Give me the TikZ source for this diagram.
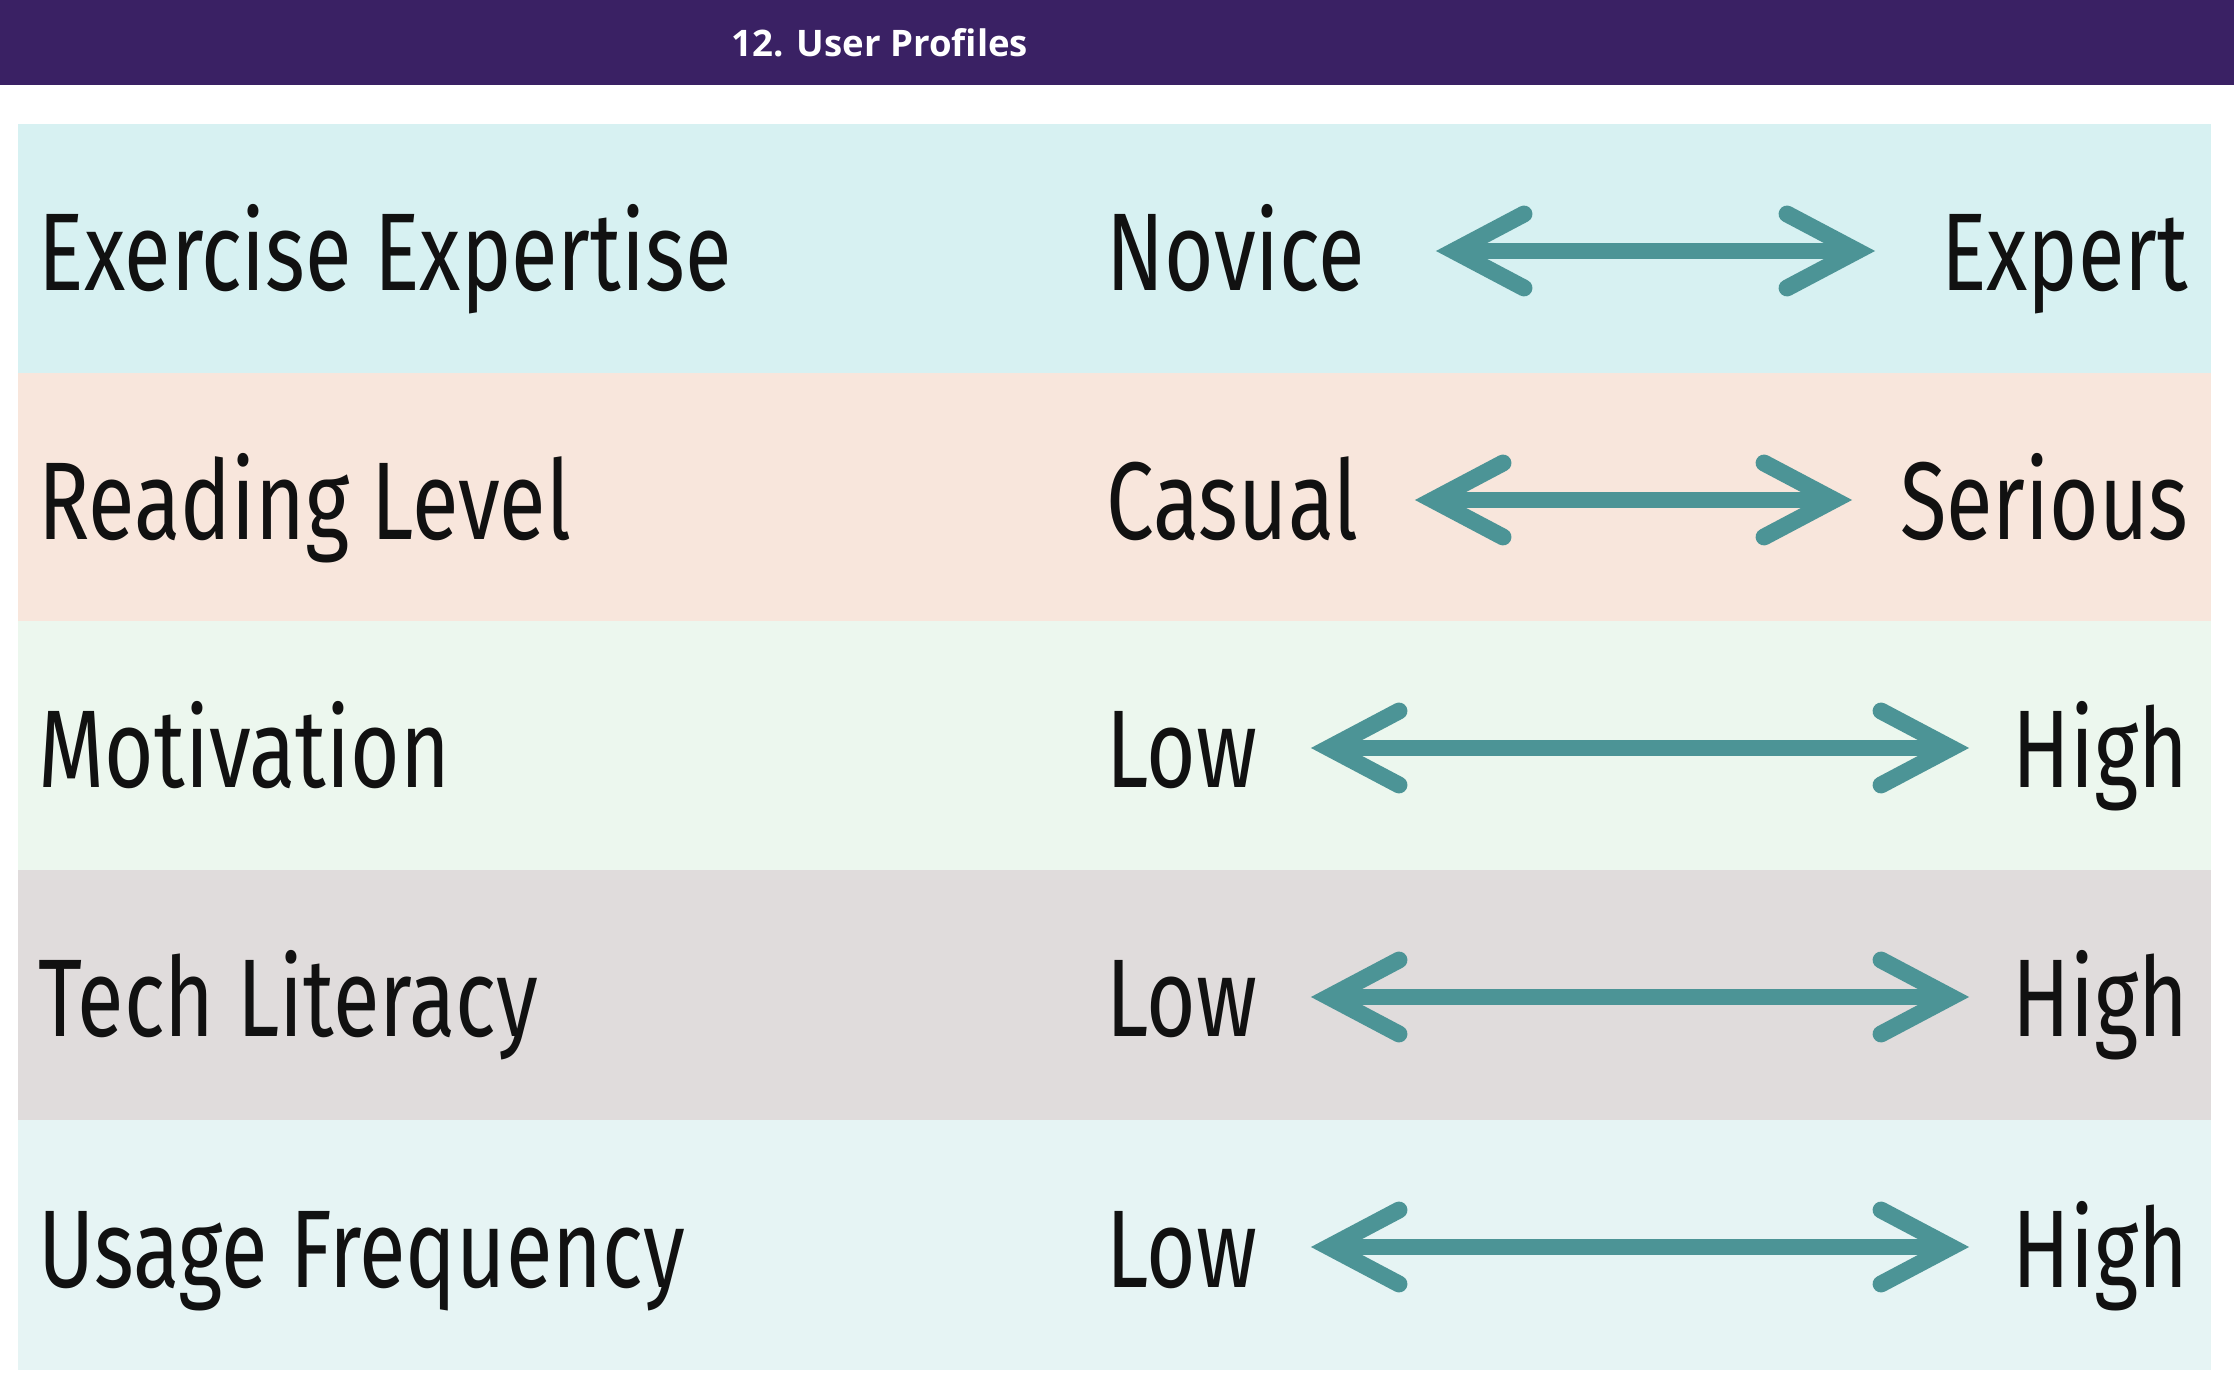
\documentclass[tikz,border=0pt]{standalone}
\usepackage{fontspec}
\newfontfamily\rowfont[FakeStretch=0.77]{Fira Sans}
\newfontfamily\titlefont{Open Sans}
\definecolor{hdr}{HTML}{3A2164}
\definecolor{bandA}{HTML}{D7F1F2}
\definecolor{bandB}{HTML}{F8E6DC}
\definecolor{bandC}{HTML}{ECF7EE}
\definecolor{bandD}{HTML}{E0DCDC}
\definecolor{bandE}{HTML}{E6F4F4}
\definecolor{teal}{HTML}{4C9496}
\definecolor{ink}{HTML}{111111}
\tikzset{
  titletxt/.style={text=white, inner sep=0pt, font=\titlefont\bfseries\fontsize{10.4}{12}\selectfont},
  rowtxt/.style={text=ink, inner sep=0pt, font=\rowfont\fontsize{31.4}{36}\selectfont},
  shaft/.style={draw=teal, line width=4.8pt, line cap=butt},
  barb/.style={draw=teal, line width=4.8pt, line cap=round, line join=miter, miter limit=10}
}
\begin{document}
\begin{tikzpicture}[x=0.01cm,y=-0.01cm]
\useasboundingbox (0,0) rectangle (2234,1380);
\fill[white] (0,0) rectangle (2234,1380);
% header bar
\fill[hdr] (0,0) rectangle (2234,85);
\node[titletxt] (title) at (880,43) {12. User Profiles};
% one band per profile dimension
\foreach \i/\top/\col/\lab/\lo/\hi/\lt/\rt in {
  1/124/bandA/Exercise Expertise/Novice/Expert/1436/1875,
  2/373/bandB/Reading Level/Casual/Serious/1415/1852,
  3/621/bandC/Motivation/Low/High/1311/1969,
  4/870/bandD/Tech Literacy/Low/High/1311/1969,
  5/1120/bandE/Usage Frequency/Low/High/1311/1969}{
  \fill[\col] (18,\top) rectangle (2211,\top+250);
  \node[rowtxt, anchor=base west] (lab\i) at (38,\top+167) {\lab};
  \node[rowtxt, anchor=base west] (lo\i) at (1106,\top+167) {\lo};
  \node[rowtxt, anchor=base east] (hi\i) at (2189,\top+167) {\hi};
  \coordinate (l\i) at (\lt+18,\top+127);
  \coordinate (r\i) at (\rt-18,\top+127);
  \draw[shaft] (l\i) -- (r\i);
  \draw[barb] (l\i) ++(70,37) -- (l\i) -- ++(70,-37);
  \draw[barb] (r\i) ++(-70,37) -- (r\i) -- ++(-70,-37);
}
\end{tikzpicture}
\end{document}
